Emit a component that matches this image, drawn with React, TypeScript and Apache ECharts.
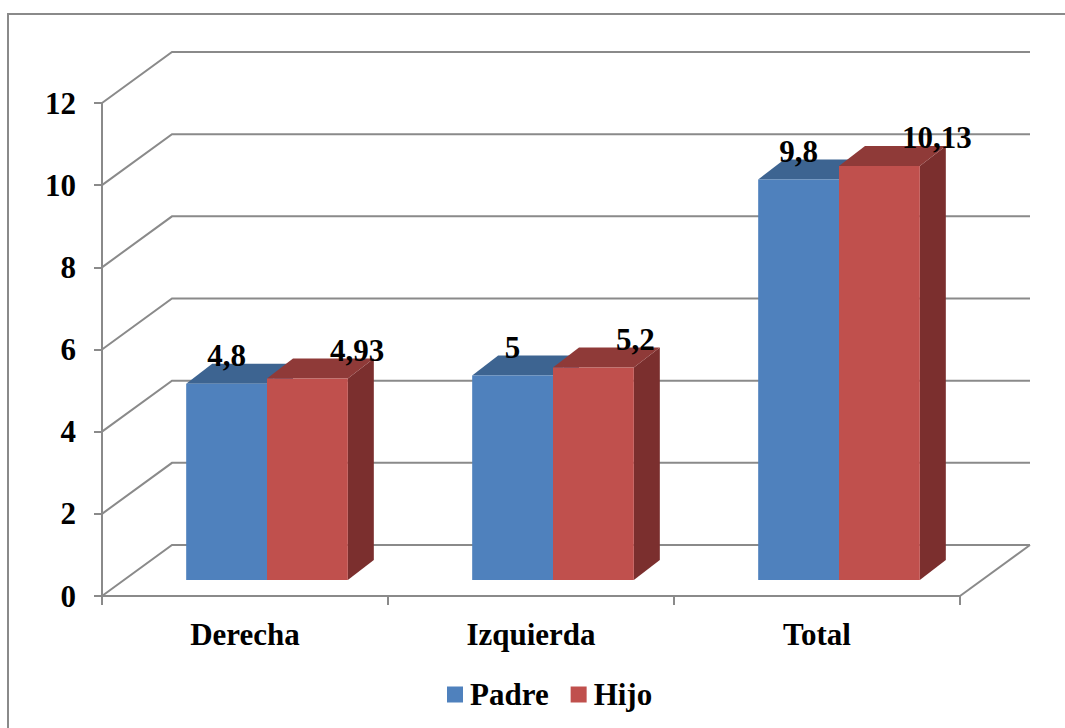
import React, { useEffect, useRef } from "react";
import * as echarts from "echarts";

// ---- data ----
const categories = ["Derecha", "Izquierda", "Total"];
const padreValues = [4.8, 5, 9.8];
const hijoValues = [4.93, 5.2, 10.13];
const yTicks = [0, 2, 4, 6, 8, 10, 12];
const seriesNames = ["Padre", "Hijo"];

// ---- styles ----
const GRID_COLOR = "#8a8a8a";
const FONT = "'Liberation Serif', 'Times New Roman', 'DejaVu Serif', serif";
const BLUE = { front: "#4f81bd", top: "#3d6491", side: "#385d8a" };
const RED = { front: "#c0504d", top: "#8f3a38", side: "#7b2f2e" };
const WALL = { dx: 70, dy: -51 };
const BAR_OFF = { dx: 22, dy: -16 };
const BAR_DEPTH = { dx: 26, dy: -20 };
const BAR_FRAC = 0.2826;
const HEIGHT_SCALE = 0.995;

const fmt = (v: number) => String(v).replace(".", ",");

function makeBarRenderer(seriesIndex: number, col: { front: string; top: string; side: string }) {
  return (params: any, api: any) => {
    const i = api.value(0);
    const v = api.value(1);
    const base = api.coord([i, 0]);
    const tip = api.coord([i, v]);
    const bw = api.size([1, 0])[0] * BAR_FRAC;
    const xL = base[0] + BAR_OFF.dx + (seriesIndex === 0 ? -bw : 0);
    const xR = xL + bw;
    const bottom = base[1] + BAR_OFF.dy;
    const top = bottom - (base[1] - tip[1]) * HEIGHT_SCALE;
    const dx = BAR_DEPTH.dx;
    const dy = BAR_DEPTH.dy;
    const label = fmt(v);
    return {
      type: "group",
      children: [
        {
          type: "polygon",
          shape: { points: [[xR, top], [xR + dx, top + dy], [xR + dx, bottom + dy], [xR, bottom]] },
          style: { fill: col.side },
        },
        {
          type: "polygon",
          shape: { points: [[xL, top], [xR, top], [xR + dx, top + dy], [xL + dx, top + dy]] },
          style: { fill: col.top },
        },
        {
          type: "rect",
          shape: { x: xL, y: top, width: bw, height: bottom - top },
          style: { fill: col.front },
        },
        {
          type: "text",
          style: {
            text: label,
            x: seriesIndex === 0 ? xL + bw / 2 : xL + 63,
            y: top - 28,
            align: seriesIndex === 0 ? "center" : "left",
            verticalAlign: "middle",
            fill: "#000",
            fontFamily: FONT,
            fontWeight: "bold",
            fontSize: 31,
          },
          z2: 10,
        },
      ],
    };
  };
}

export default function App() {
  const ref = useRef<HTMLDivElement>(null);
  useEffect(() => {
    if (!ref.current) return;
    const chart = echarts.init(ref.current, undefined, { renderer: "svg" });
    const axisText = { fontFamily: FONT, fontWeight: "bold", fontSize: 31, color: "#000" };
    const lineStyle = { color: GRID_COLOR, width: 2 };
    chart.setOption({
      animation: false,
      backgroundColor: "#fff",
      color: [BLUE.front, RED.front],
      graphic: [
        {
          type: "polyline",
          shape: { points: [[8, 800], [8, 14], [1150, 14]] },
          style: { fill: "none", stroke: GRID_COLOR, lineWidth: 2 },
          silent: true,
        },
      ],
      grid: { left: 102, top: 103, width: 858, height: 493 },
      xAxis: {
        type: "category",
        data: categories,
        axisLine: { show: true, lineStyle },
        axisTick: { show: true, length: 9, lineStyle },
        axisLabel: { ...axisText, margin: 23 },
        splitLine: { show: false },
      },
      yAxis: {
        type: "value",
        min: 0,
        max: 12,
        interval: 2,
        axisLine: { show: true, lineStyle },
        axisTick: { show: true, length: 8, lineStyle },
        axisLabel: { ...axisText, margin: 26 },
        splitLine: { show: false },
      },
      legend: {
        data: seriesNames,
        left: 447,
        top: 679,
        icon: "rect",
        itemWidth: 16,
        itemHeight: 16,
        itemGap: 22,
        padding: 0,
        textStyle: { fontFamily: FONT, fontWeight: "bold", fontSize: 31, color: "#000", padding: [0, 0, 0, 2] },
      },
      series: [
        {
          type: "custom",
          name: "wall",
          silent: true,
          data: [[0, 0]],
          z: 1,
          renderItem: (params: any, api: any) => {
            const cs = params.coordSys;
            const x0 = cs.x;
            const x1 = cs.x + cs.width;
            const children: any[] = [];
            yTicks.forEach((t) => {
              const y = api.coord([0, t])[1];
              children.push({
                type: "polyline",
                shape: { points: [[x0, y], [x0 + WALL.dx, y + WALL.dy], [x1 + WALL.dx, y + WALL.dy]] },
                style: { stroke: GRID_COLOR, lineWidth: 2, fill: "none" },
              });
            });
            const yb = api.coord([0, 0])[1];
            children.push({
              type: "line",
              shape: { x1: x1, y1: yb, x2: x1 + WALL.dx, y2: yb + WALL.dy },
              style: { stroke: GRID_COLOR, lineWidth: 2 },
            });
            return { type: "group", children };
          },
        },
        {
          type: "custom",
          name: seriesNames[0],
          itemStyle: { color: BLUE.front },
          data: padreValues.map((v, i) => [i, v]),
          z: 2,
          renderItem: makeBarRenderer(0, BLUE),
        },
        {
          type: "custom",
          name: seriesNames[1],
          itemStyle: { color: RED.front },
          data: hijoValues.map((v, i) => [i, v]),
          z: 3,
          renderItem: makeBarRenderer(1, RED),
        },
      ],
    });
    return () => chart.dispose();
  }, []);
  return (
    <div
      ref={ref}
      style={{ position: "fixed", left: 0, top: 0, width: 1140, height: 790, background: "#fff" }}
    />
  );
}
